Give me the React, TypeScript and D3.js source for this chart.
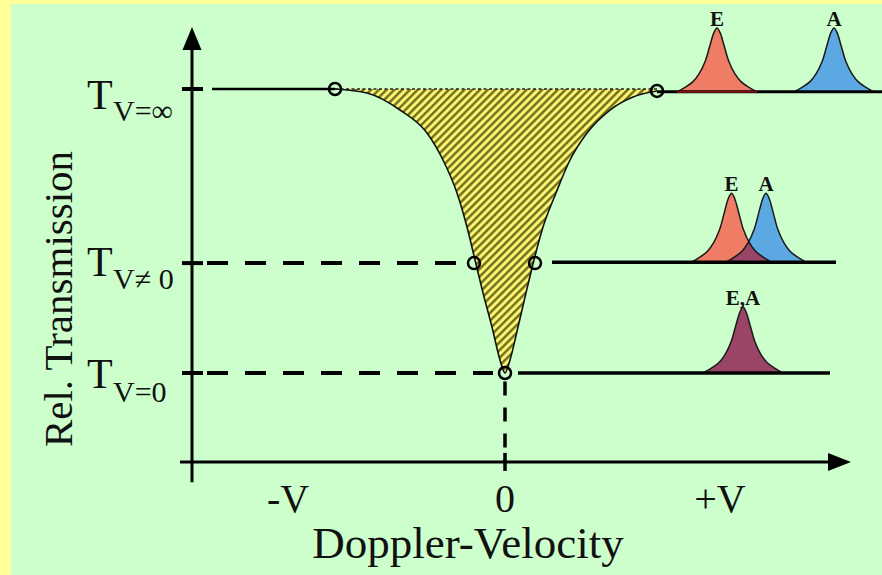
import React from "react";
import * as d3 from "d3";

// ---------- data ----------
// Doppler dip (velocity in units of 100 px, relative transmission)
const dipVelocity = [-1.70, -1.38, -1.05, -0.78, -0.62, -0.48, -0.38, -0.30, -0.22, -0.13, -0.05, 0, 0.05, 0.13, 0.21, 0.29, 0.38, 0.51, 0.65, 0.82, 1.05, 1.28, 1.52];
const dipTransmission = [1.0, 0.986, 0.926, 0.845, 0.75, 0.634, 0.514, 0.398, 0.282, 0.162, 0.046, 0, 0.046, 0.162, 0.282, 0.398, 0.514, 0.634, 0.75, 0.845, 0.926, 0.972, 0.993];

// transmission levels
const levelSubscripts = ["V=\u221E", "V\u2260 0", "V=0"];
const levelValues = [1, 0.387, 0];

// open circle markers
const markerVelocity = [-1.70, 1.52, -0.31, 0.30, 0];
const markerTransmission = [1, 0.993, 0.387, 0.387, 0];

// x tick labels
const xTickLabels = ["-V", "0", "+V"];
const xTickValues = [-2.17, 0, 2.15];

// spectral peaks
const peakLabels = ["E", "A", "E", "A", "E,A"];
const peakKind = ["E", "A", "E", "A", "EA"];
const peakCenter = [2.12, 3.29, 2.265, 2.61, 2.38];
const peakBase = [0.99, 0.99, 0.39, 0.39, 0.0];
const peakHeight = [0.225, 0.225, 0.243, 0.243, 0.232];
// common peak profile (offset in velocity units, fraction of height)
const peakOffset = [-0.40, -0.32, -0.24, -0.18, -0.12, -0.07, -0.03, 0, 0.03, 0.07, 0.12, 0.18, 0.24, 0.32, 0.40];
const peakProfile = [0, 0.07, 0.16, 0.28, 0.47, 0.73, 0.93, 1, 0.93, 0.73, 0.47, 0.28, 0.16, 0.07, 0];

// ---------- layout ----------
const W = 882, H = 575;
const FONT = "'Liberation Serif', 'Times New Roman', serif";
const colors: Record<string, string> = { E: "#ef7c64", A: "#5ba8e3", EA: "#9a4468" };

const x = d3.scaleLinear().domain([-3.25, 3.43]).range([180, 848]);
const y = d3.scaleLinear().domain([0, 1]).range([373, 89]);

export default function App() {
  const dip = dipVelocity.map((v, i) => [v, dipTransmission[i]] as [number, number]);
  const area = d3.area<[number, number]>()
    .x(d => x(d[0])).y0(y(1)).y1(d => y(d[1])).curve(d3.curveMonotoneX);
  const line = d3.line<[number, number]>()
    .x(d => x(d[0])).y(d => y(d[1])).curve(d3.curveMonotoneX);

  const peakPts = (i: number) => peakOffset.map((o, k) => [peakCenter[i] + o, peakBase[i] + peakHeight[i] * peakProfile[k]] as [number, number]);
  const peakArea = (i: number) => d3.area<[number, number]>()
    .x(d => x(d[0])).y0(y(peakBase[i])).y1(d => y(d[1])).curve(d3.curveCatmullRom.alpha(0.5))(peakPts(i)) as string;
  const peakLine = (i: number) => d3.line<[number, number]>()
    .x(d => x(d[0])).y(d => y(d[1])).curve(d3.curveCatmullRom.alpha(0.5))(peakPts(i)) as string;

  const axisY = x(-3.13); // x position of vertical axis
  const xAxisY = y(-0.313);
  const tDy = [20, 13, 15];
  const subDy = [32, 26, 29];

  return (
    <svg width={W} height={H} style={{ position: "absolute", left: 0, top: 0 }} fontFamily={FONT}>
      <defs>
        <pattern id="hatch" width="5.5" height="5.5" patternUnits="userSpaceOnUse" patternTransform="rotate(45)">
          <rect width="5.5" height="5.5" fill="#faf670" />
          <line x1="1.3" y1="0" x2="1.3" y2="5.5" stroke="#6a661a" strokeWidth="2.3" />
        </pattern>
        <clipPath id="clipE">
          <path d={peakArea(2)} />
        </clipPath>
      </defs>
      <rect x={0} y={0} width={W} height={H} fill="#ffff99" />
      <rect x={11} y={4} width={W - 11} height={H - 4} fill="#ccffcc" />

      {/* hatched dip */}
      <path d={area(dip) as string} fill="url(#hatch)" />
      <path d={line(dip) as string} fill="none" stroke="#111" strokeWidth={1.6} />
      <line x1={x(-1.70)} x2={x(1.52)} y1={y(1)} y2={y(1)} stroke="#222" strokeWidth={1.5} strokeDasharray="3 2.5" />

      {/* level lines */}
      <line x1={x(-2.93)} x2={x(-1.70)} y1={y(1)} y2={y(1)} stroke="#000" strokeWidth={2.6} />
      <line x1={x(-2.98)} x2={x(-0.43)} y1={y(0.387)} y2={y(0.387)} stroke="#000" strokeWidth={4} strokeDasharray="21 17" />
      <line x1={x(-2.98)} x2={x(-0.12)} y1={y(0)} y2={y(0)} stroke="#000" strokeWidth={4} strokeDasharray="21 17" />
      <line x1={x(0)} x2={x(0)} y1={y(-0.03)} y2={xAxisY} stroke="#000" strokeWidth={3.5} strokeDasharray="14 12" />
      <line x1={x(0)} x2={x(0)} y1={xAxisY - 9} y2={xAxisY + 9} stroke="#000" strokeWidth={3.5} />

      {/* peaks fills */}
      {peakLabels.map((_, i) => (
        <path key={"pa" + i} d={peakArea(i)} fill={colors[peakKind[i]]} />
      ))}
      <path d={peakArea(3)} fill={colors.EA} clipPath="url(#clipE)" />
      {peakLabels.map((_, i) => (
        <path key={"pl" + i} d={peakLine(i)} fill="none" stroke="#1a1a1a" strokeWidth={1.5} />
      ))}

      {/* right baselines */}
      <line x1={x(1.52)} x2={W} y1={y(0.99)} y2={y(0.99)} stroke="#000" strokeWidth={3} />
      <line x1={x(1.72)} x2={x(2.52)} y1={y(0.99)} y2={y(0.99)} stroke="#7a1010" strokeWidth={2} />
      <line x1={x(0.47)} x2={x(3.31)} y1={y(0.39)} y2={y(0.39)} stroke="#000" strokeWidth={3.5} />
      <line x1={x(0.13)} x2={x(3.25)} y1={y(0)} y2={y(0)} stroke="#000" strokeWidth={3.5} />

      {/* peak labels */}
      {peakLabels.map((l, i) => (
        <text key={"lab" + i} x={x(peakCenter[i])} y={y(peakBase[i] + peakHeight[i]) - 2}
          textAnchor="middle" fontSize={21} fontWeight="bold" fill="#111">{l}</text>
      ))}

      {/* markers */}
      {markerVelocity.map((v, i) => (
        <circle key={"m" + i} cx={x(v)} cy={y(markerTransmission[i])} r={6} fill="none" stroke="#000" strokeWidth={2.5} />
      ))}

      {/* axes */}
      <line x1={axisY} x2={axisY} y1={y(-0.385)} y2={45} stroke="#000" strokeWidth={3} />
      <path d={`M${axisY},27 L${axisY + 9.5},50 L${axisY - 9.5},50 Z`} fill="#000" />
      <line x1={180} x2={832} y1={xAxisY} y2={xAxisY} stroke="#000" strokeWidth={3} />
      <path d={`M851,${xAxisY} L828,${xAxisY - 9} L828,${xAxisY + 9} Z`} fill="#000" />

      {levelValues.map((t, i) => (
        <g key={"lv" + i}>
          <line x1={axisY - 10} x2={axisY + 11} y1={y(t)} y2={y(t)} stroke="#000" strokeWidth={4} />
          <text x={87} y={y(t) + tDy[i]} fontSize={42} fill="#111">T</text>
          <text x={113} y={y(t) + subDy[i]} fontSize={30} fill="#111">{levelSubscripts[i]}</text>
        </g>
      ))}

      {xTickLabels.map((l, i) => (
        <text key={"xt" + i} x={x(xTickValues[i])} y={512} textAnchor="middle" fontSize={40} fill="#111">{l}</text>
      ))}
      <text x={468} y={558} textAnchor="middle" fontSize={45} fill="#111">Doppler-Velocity</text>
      <text transform={`translate(72,299) rotate(-90)`} textAnchor="middle" fontSize={41} fill="#111">Rel. Transmission</text>
    </svg>
  );
}
